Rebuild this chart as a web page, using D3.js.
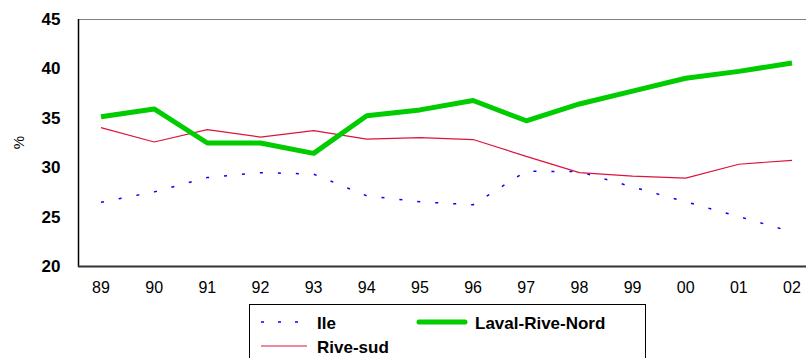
<!DOCTYPE html>
<html lang="en">
<head>
  <meta charset="UTF-8">
  <title>Ile / Rive-sud / Laval-Rive-Nord</title>
  <script src="https://d3js.org/d3.v7.min.js"></script>
  <style>
    body, html {
      margin: 0;
      background: #fff;
      font-family: 'Liberation Sans', Arial, sans-serif;
    }
    svg { display: block; }
  </style>
</head>
<body>
<svg id="chart" width="806" height="358"></svg>
<script>
  const years = ["89","90","91","92","93","94","95","96","97","98","99","00","01","02"];
  const ile = [26.45, 27.5, 28.95, 29.45, 29.3, 27.1, 26.5, 26.2, 29.6, 29.55, 28.0, 26.5, 25.0, 23.45];
  const riveSud = [34.0, 32.55, 33.8, 33.05, 33.7, 32.85, 33.0, 32.8, 31.1, 29.45, 29.1, 28.9, 30.3, 30.7];
  const lavalRiveNord = [35.1, 35.9, 32.45, 32.45, 31.4, 35.2, 35.8, 36.75, 34.7, 36.4, 37.7, 39.0, 39.7, 40.55];
  const yTicks = [20, 25, 30, 35, 40, 45];

  const svg = d3.select("#chart");
  const plotLeft = 78, plotTop = 19, plotBottom = 266;

  // category positions: 89 at ~101, 02 at ~792
  const x = d3.scalePoint().domain(years).range([101, 792]);
  const y = d3.scaleLinear().domain([20, 45]).range([plotBottom, plotTop]);

  // frame: top edge gray, runs off the right side
  svg.append("line")
    .attr("x1", plotLeft).attr("x2", 806)
    .attr("y1", plotTop + 0.5).attr("y2", plotTop + 0.5)
    .attr("stroke", "#808080").attr("stroke-width", 1);

  // y tick labels
  svg.append("g").selectAll("text")
    .data(yTicks)
    .join("text")
    .attr("x", 60.5)
    .attr("y", d => y(d))
    .attr("dy", "0.35em")
    .attr("text-anchor", "end")
    .style("font-size", "17px")
    .style("font-weight", "bold")
    .text(d => d);

  // x tick labels
  svg.append("g").selectAll("text")
    .data(years)
    .join("text")
    .attr("x", d => x(d))
    .attr("y", 293)
    .attr("text-anchor", "middle")
    .style("font-size", "16px")
    .text(d => d);

  svg.append("text")
    .attr("transform", `translate(24,${(plotTop + plotBottom) / 2}) rotate(-90)`)
    .attr("text-anchor", "middle")
    .style("font-size", "15px")
    .text("%");

  const line = d3.line()
    .x((d, i) => x(years[i]))
    .y(d => y(d));

  const series = [
    { name: "Ile", data: ile, color: "#0000ff", width: 1.5, dash: "3,15" },
    { name: "Rive-sud", data: riveSud, color: "#dc143c", width: 1.2, dash: null },
    { name: "Laval-Rive-Nord", data: lavalRiveNord, color: "#00cc00", width: 5, dash: null }
  ];

  series.forEach(s => {
    svg.append("path")
      .datum(s.data)
      .attr("fill", "none")
      .attr("stroke", s.color)
      .attr("stroke-width", s.width)
      .attr("stroke-dasharray", s.dash)
      .attr("stroke-linejoin", "round")
      .attr("d", line);
  });

  // axes lines (drawn on top)
  svg.append("line")
    .attr("x1", plotLeft + 0.5).attr("x2", plotLeft + 0.5)
    .attr("y1", plotTop).attr("y2", plotBottom + 1)
    .attr("stroke", "#000").attr("stroke-width", 1.5);
  svg.append("line")
    .attr("x1", plotLeft).attr("x2", 806)
    .attr("y1", plotBottom + 0.5).attr("y2", plotBottom + 0.5)
    .attr("stroke", "#333").attr("stroke-width", 2);

  // legend
  const lg = svg.append("g");
  lg.append("rect")
    .attr("x", 249.5).attr("y", 304.5)
    .attr("width", 396).attr("height", 60)
    .attr("fill", "#fff").attr("stroke", "#000").attr("stroke-width", 1);

  const legendItems = [
    { s: series[0], x: 261, y: 322 },
    { s: series[2], x: 419, y: 322 },
    { s: series[1], x: 261, y: 346 }
  ];
  legendItems.forEach(it => {
    lg.append("line")
      .attr("x1", it.x).attr("x2", it.x + 46)
      .attr("y1", it.y).attr("y2", it.y)
      .attr("stroke", it.s.color)
      .attr("stroke-width", it.s.width)
      .attr("stroke-dasharray", it.s.dash ? "3,14" : null)
      .attr("stroke-linecap", it.s.width > 3 ? "round" : "butt");
    lg.append("text")
      .attr("x", it.x + 56)
      .attr("y", it.y + 1)
      .attr("dy", "0.35em")
      .style("font-size", "17px")
      .style("font-weight", "bold")
      .text(it.s.name);
  });
</script>
</body>
</html>
